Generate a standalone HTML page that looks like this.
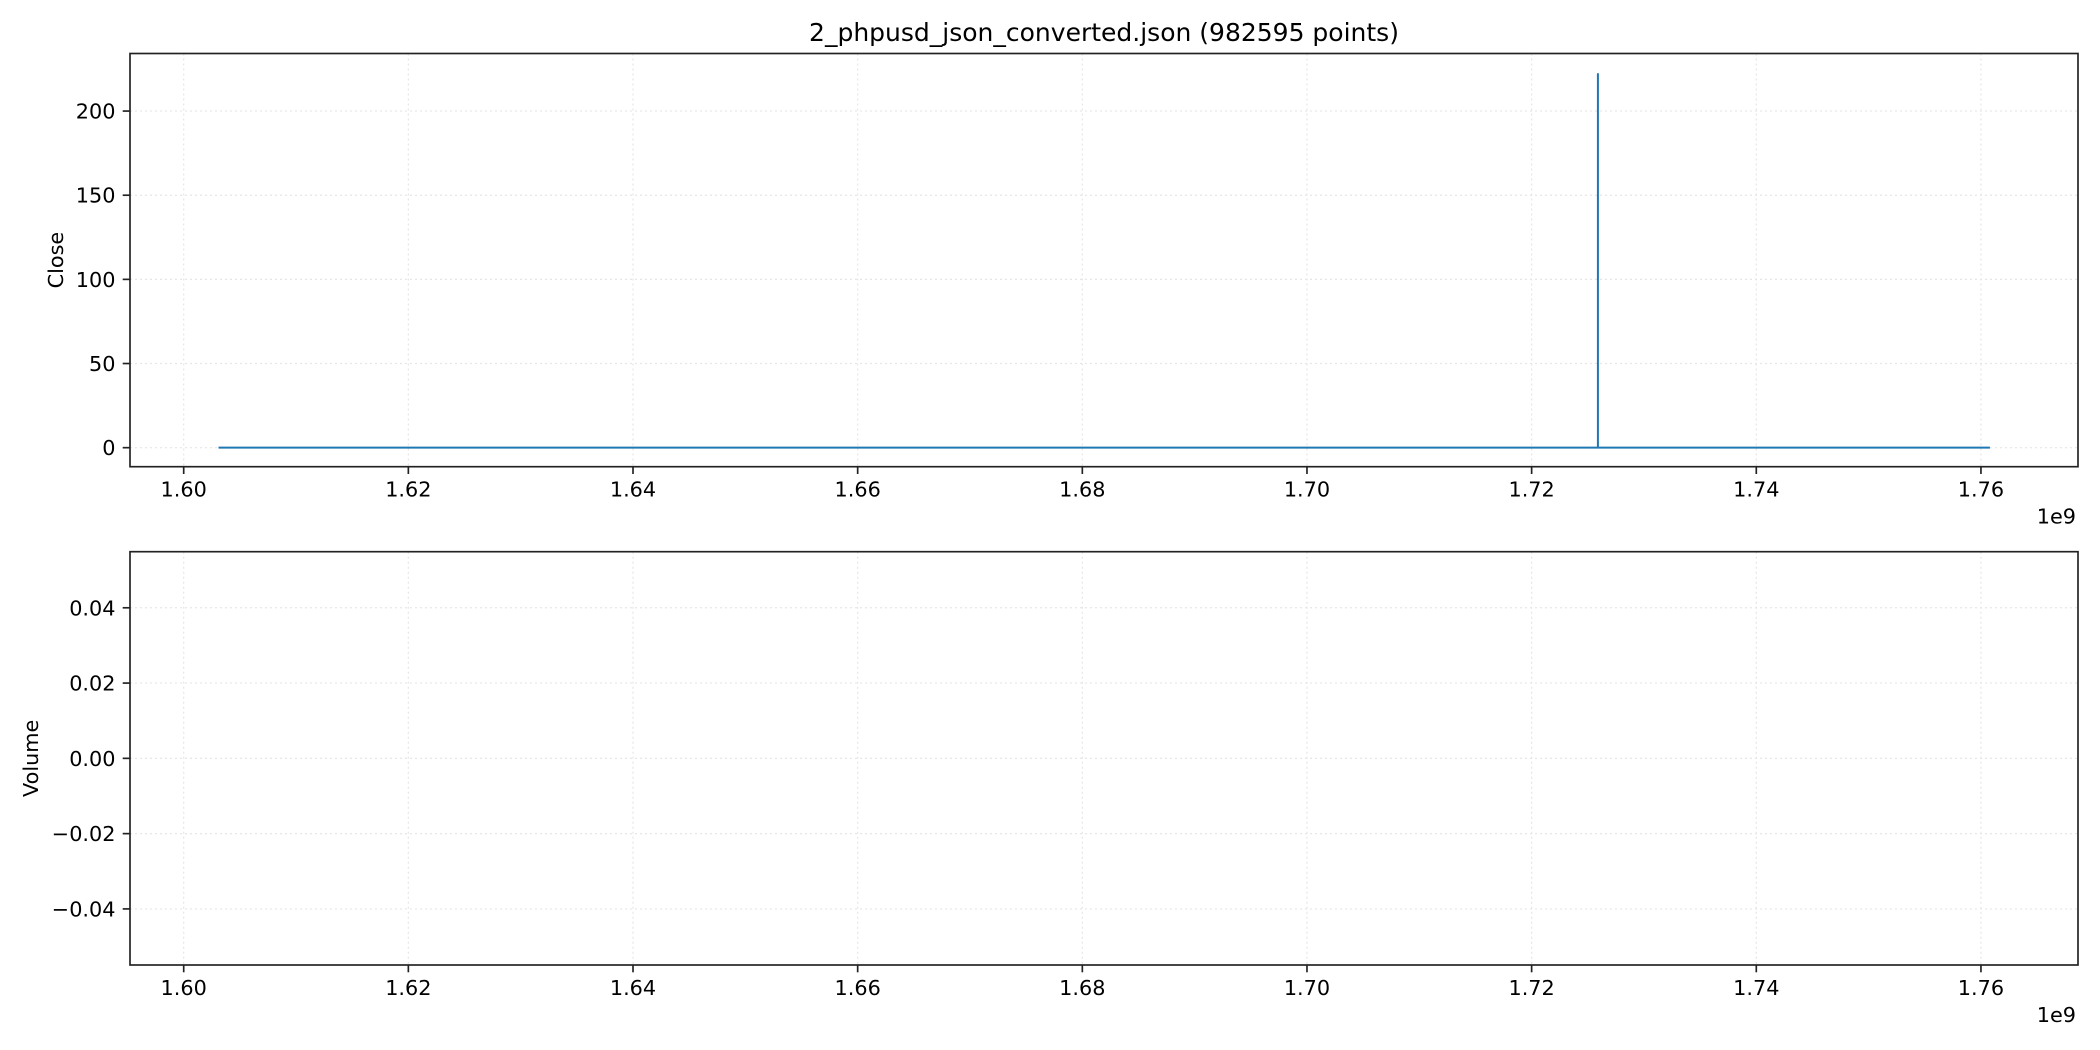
<!DOCTYPE html>
<html><head><meta charset="utf-8"><style>
html,body{margin:0;padding:0;background:#fff;}
svg{display:block;font-family:"DejaVu Sans","Liberation Sans",sans-serif;}
</style></head><body>
<svg id="fig" width="2100" height="1050" viewBox="0 0 2100 1050">
<text x="1104" y="41" font-size="25" text-anchor="middle" fill="#000">2_phpusd_json_converted.json (982595 points)</text>
</svg>
<script>
const xTicks=[1.60,1.62,1.64,1.66,1.68,1.70,1.72,1.74,1.76];
const xTickLabels=["1.60","1.62","1.64","1.66","1.68","1.70","1.72","1.74","1.76"];
const closeTicks=[0,50,100,150,200];
const closeTickLabels=["0","50","100","150","200"];
const volTicks=[-0.04,-0.02,0,0.02,0.04];
const volTickLabels=["\u22120.04","\u22120.02","0.00","0.02","0.04"];
const closeTimes=[1.6031,1.7259,1.7259,1.7259,1.7608];
const closeValues=[0,0,222,0,0];

const NS="http://www.w3.org/2000/svg";
const svg=document.getElementById('fig');
function mk(tag,attrs,parent){const e=document.createElementNS(NS,tag);for(const k in attrs)e.setAttribute(k,attrs[k]);(parent||svg).appendChild(e);return e;}
const L=130,R=2078,xMin=1.59522,xMax=1.76864;
const sx=v=>L+(v-xMin)/(xMax-xMin)*(R-L);

function axes(name,top,bottom,yMin,yMax,ticks,labels,ylabel,ylabX){
  const g=mk('g',{});
  
  
  const sy=v=>bottom-(v-yMin)/(yMax-yMin)*(bottom-top);
  xTicks.forEach((t,i)=>{
    const x=sx(t);
    const gl=mk('line',{x1:x,x2:x,y1:top,y2:bottom,stroke:'#e6e6e6','stroke-width':1.2,'stroke-dasharray':'2,3'},g);
    
    
    mk('line',{x1:x,x2:x,y1:bottom,y2:bottom+7.3,stroke:'#222','stroke-width':1.67},g);
    const tx=mk('text',{x:x,y:bottom+30,'font-size':20.8,'text-anchor':'middle',fill:'#000'},g);
    tx.textContent=xTickLabels[i];
    
    
  });
  ticks.forEach((t,i)=>{
    const y=sy(t);
    const gl=mk('line',{x1:L,x2:R,y1:y,y2:y,stroke:'#e6e6e6','stroke-width':1.2,'stroke-dasharray':'2,3'},g);
    
    
    mk('line',{x1:L-7.3,x2:L,y1:y,y2:y,stroke:'#222','stroke-width':1.67},g);
    const tx=mk('text',{x:L-14.5,y:y+7.5,'font-size':20.8,'text-anchor':'end',fill:'#000'},g);
    tx.textContent=labels[i];
    
    
  });
  const cy=(top+bottom)/2;
  const yl=mk('text',{x:ylabX,y:cy,'font-size':20.8,'text-anchor':'middle',fill:'#000',transform:`rotate(-90 ${ylabX} ${cy})`},g);
  yl.textContent=ylabel;
  
  
  const off=mk('text',{x:2076,y:bottom+57,'font-size':20.8,'text-anchor':'end',fill:'#000'},g);
  off.textContent='1e9';
  
  
  return {g,sy};
}

const a1=axes('close-axes',53.5,466.7,-11.3,234.2,closeTicks,closeTickLabels,'Close',63);
let d='';
closeTimes.forEach((t,i)=>{d+=(i?'L':'M')+sx(t).toFixed(2)+' '+a1.sy(closeValues[i]).toFixed(2)+' ';});
const line=mk('path',{d:d,fill:'none',stroke:'#1f77b4','stroke-width':2,'stroke-linejoin':'round'},a1.g);


const f1=mk('rect',{x:L,y:53.5,width:R-L,height:466.7-53.5,fill:'none',stroke:'#222','stroke-width':1.67},a1.g);



const a2=axes('volume-axes',551.7,965,-0.0549,0.0549,volTicks,volTickLabels,'Volume',38);
const f2=mk('rect',{x:L,y:551.7,width:R-L,height:965-551.7,fill:'none',stroke:'#222','stroke-width':1.67},a2.g);


</script>
</body></html>
